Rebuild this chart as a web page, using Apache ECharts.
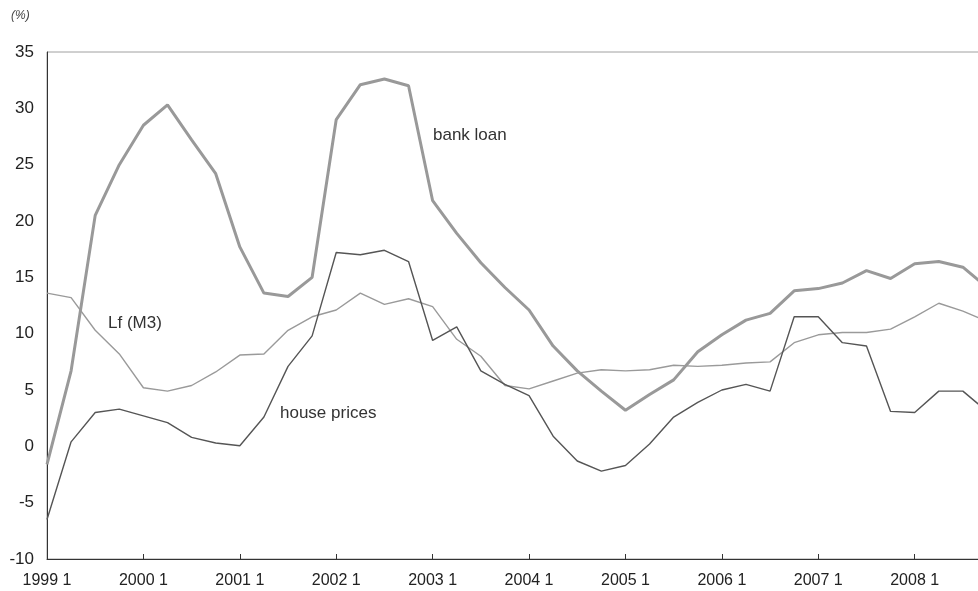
<!DOCTYPE html>
<html>
<head>
<meta charset="utf-8">
<script src="https://cdn.jsdelivr.net/npm/echarts@6/dist/echarts.min.js"></script>
<style>
html,body{margin:0;padding:0;background:#fff;overflow:hidden;width:978px;height:591px;}
#chart{width:1000px;height:591px;}
</style>
</head>
<body>
<div id="chart"></div>
<script>
// Quarterly periods 1999Q1 .. 2008Q4
const years = [1999,2000,2001,2002,2003,2004,2005,2006,2007,2008];
const quarters = [1,2,3,4];
const categories = [];
years.forEach(y => quarters.forEach(q => categories.push(y + ' ' + q)));

const bankLoan = [
  -1.6, 6.7, 20.5, 25.0, 28.5, 30.3, 27.2, 24.2,
  17.7, 13.6, 13.3, 15.0, 29.0, 32.1, 32.6, 32.0,
  21.8, 18.9, 16.3, 14.1, 12.1, 8.9, 6.7, 4.9,
  3.2, 4.6, 5.9, 8.4, 9.9, 11.2, 11.8, 13.8,
  14.0, 14.5, 15.6, 14.9, 16.2, 16.4, 15.9, 14.1
];
const lfM3 = [
  13.6, 13.2, 10.3, 8.2, 5.2, 4.9, 5.4, 6.6,
  8.1, 8.2, 10.3, 11.5, 12.1, 13.6, 12.6, 13.1,
  12.4, 9.5, 8.0, 5.4, 5.1, 5.8, 6.5, 6.8,
  6.7, 6.8, 7.2, 7.1, 7.2, 7.4, 7.5, 9.2,
  9.9, 10.1, 10.1, 10.4, 11.5, 12.7, 12.0, 11.1
];
const housePrices = [
  -6.5, 0.4, 3.0, 3.3, 2.7, 2.1, 0.8, 0.3,
  0.05, 2.6, 7.1, 9.8, 17.2, 17.0, 17.4, 16.4,
  9.4, 10.6, 6.7, 5.5, 4.5, 0.9, -1.3, -2.2,
  -1.7, 0.2, 2.6, 3.9, 5.0, 5.5, 4.9, 11.5,
  11.5, 9.2, 8.9, 3.1, 3.0, 4.9, 4.9, 3.1
];
const yTicks = {min: -10, max: 35, step: 5};

const chart = echarts.init(document.getElementById('chart'), null, {renderer: 'canvas'});
const font = '"Liberation Sans", Arial, sans-serif';
chart.setOption({
  animation: false,
  backgroundColor: '#ffffff',
  grid: {
    left: 47, top: 52, width: 940, height: 507,
    show: true, borderColor: '#a0a0a0', borderWidth: 1, containLabel: false
  },
  xAxis: {
    type: 'category',
    data: categories,
    boundaryGap: false,
    axisLine: {onZero: false, lineStyle: {color: '#333', width: 1}},
    axisTick: {
      show: true, inside: true, length: 5,
      interval: (i) => i % 4 === 0,
      lineStyle: {color: '#333'}
    },
    axisLabel: {
      interval: (i) => i % 4 === 0,
      margin: 14,
      fontSize: 16,
      fontFamily: font,
      color: '#222'
    },
    splitLine: {show: false}
  },
  yAxis: {
    type: 'value',
    min: yTicks.min, max: yTicks.max, interval: yTicks.step,
    axisLine: {show: true, lineStyle: {color: '#333', width: 1}},
    axisTick: {show: false},
    axisLabel: {fontSize: 17, fontFamily: font, color: '#222', margin: 13},
    splitLine: {show: false}
  },
  series: [
    {
      name: 'bank loan', type: 'line', data: bankLoan, symbol: 'none',
      lineStyle: {color: '#999999', width: 3}, z: 3
    },
    {
      name: 'Lf (M3)', type: 'line', data: lfM3, symbol: 'none',
      lineStyle: {color: '#9a9a9a', width: 1.4}, z: 2
    },
    {
      name: 'house prices', type: 'line', data: housePrices, symbol: 'none',
      lineStyle: {color: '#555555', width: 1.4}, z: 2
    }
  ],
  graphic: [
    {type: 'text', left: 11, top: 10, style: {text: '(%)', fontSize: 12, fontStyle: 'italic', fontFamily: font, fill: '#444'}},
    {type: 'text', left: 433, top: 127, style: {text: 'bank loan', fontSize: 17, fontFamily: font, fill: '#333'}},
    {type: 'text', left: 108, top: 315, style: {text: 'Lf (M3)', fontSize: 17, fontFamily: font, fill: '#333'}},
    {type: 'text', left: 280, top: 405, style: {text: 'house prices', fontSize: 17, fontFamily: font, fill: '#333'}}
  ]
});
</script>
</body>
</html>
